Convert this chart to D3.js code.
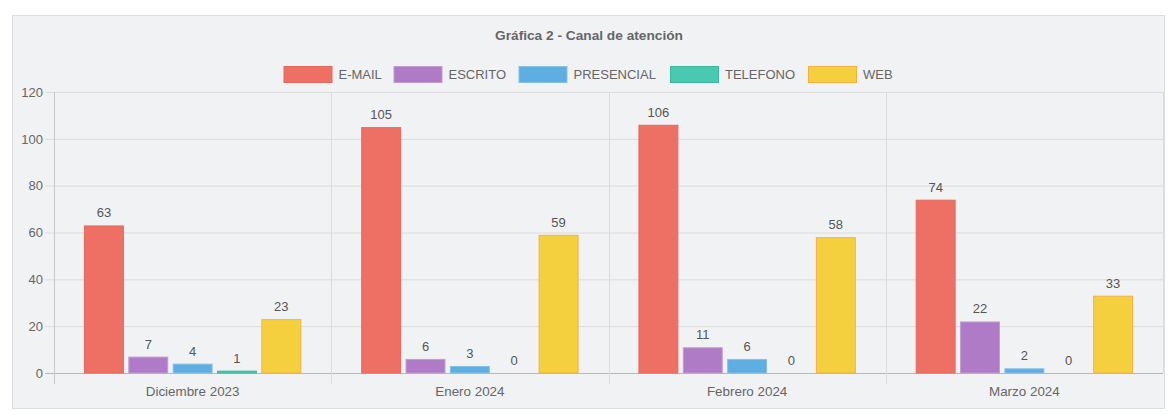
<!DOCTYPE html>
<html>
<head>
<meta charset="utf-8">
<script src="https://cdn.jsdelivr.net/npm/d3@7"></script>
<style>
  body { margin: 0; background: #fff; font-family: "Liberation Sans", Arial, Helvetica, sans-serif; }
  #chart { position: absolute; left: 0; top: 0; }
</style>
</head>
<body>
<div id="chart"></div>
<script>
const categories = ["Diciembre 2023", "Enero 2024", "Febrero 2024", "Marzo 2024"];
const seriesNames = ["E-MAIL", "ESCRITO", "PRESENCIAL", "TELEFONO", "WEB"];
const email = [63, 105, 106, 74];
const escrito = [7, 6, 11, 22];
const presencial = [4, 3, 6, 2];
const telefono = [1, 0, 0, 0];
const web = [23, 59, 58, 33];
const yTicks = [0, 20, 40, 60, 80, 100, 120];

const fills = ["#ee7064", "#b07bc6", "#5eaee2", "#48c9b0", "#f4d03f"];
const borders = ["#e8675b", "#c39bd3", "#85c1e9", "#3bb89f", "#f5b041"];
const seriesValues = [email, escrito, presencial, telefono, web];

const W = 1170, H = 415;
const plot = { left: 54, right: 1163, top: 92, bottom: 373 };
const fontFamily = "Liberation Sans, Arial, sans-serif";

const svg = d3.select("#chart").append("svg")
    .attr("width", W)
    .attr("height", H);

// panel
svg.append("rect")
    .attr("x", 12.5).attr("y", 15.5)
    .attr("width", 1152).attr("height", 393)
    .attr("fill", "#f1f2f4")
    .attr("stroke", "#dcdde0");

const x0 = d3.scaleBand().domain(categories).range([plot.left, plot.right]).padding(0);
const x1 = d3.scaleBand().domain(seriesNames)
    .range([x0.bandwidth() * 0.1, x0.bandwidth() * 0.9]);
const barW = x1.bandwidth() * 0.9;
const y = d3.scaleLinear().domain([0, 120]).range([plot.bottom, plot.top]);

// horizontal grid
const yAxis = d3.axisLeft(y).tickValues(yTicks).tickSize(0).tickPadding(11);
const gy = svg.append("g")
    .attr("transform", `translate(${plot.left},0)`)
    .call(yAxis);
gy.select(".domain").remove();
gy.selectAll(".tick line")
    .attr("x1", -9)
    .attr("x2", plot.right - plot.left)
    .attr("stroke", d => d === 0 ? "#b8b8b8" : "#dcdcdc");
gy.selectAll(".tick text")
    .attr("fill", "#666")
    .style("font-size", "13px")
    .style("font-family", fontFamily);

// vertical grid
const vlines = categories.map(c => x0(c)).concat([plot.right]);
svg.append("g").selectAll("line")
    .data(vlines)
    .join("line")
    .attr("x1", d => Math.round(d) + 0.5).attr("x2", d => Math.round(d) + 0.5)
    .attr("y1", plot.top).attr("y2", d => d === plot.right ? plot.bottom : plot.bottom + 11)
    .attr("stroke", (d, i) => i === 0 ? "#c8c8c8" : "#dcdcdc");

// x labels
const xAxis = d3.axisBottom(x0).tickSize(0).tickPadding(13);
const gx = svg.append("g")
    .attr("transform", `translate(0,${plot.bottom})`)
    .call(xAxis);
gx.select(".domain").remove();
gx.selectAll(".tick text")
    .attr("fill", "#666")
    .style("font-size", "13.4px")
    .style("font-family", fontFamily);

// bars
const groups = svg.append("g").selectAll("g")
    .data(categories)
    .join("g")
    .attr("transform", c => `translate(${x0(c)},0)`);

const cells = (c, ci) => seriesNames.map((s, si) => ({ s, si, v: seriesValues[si][ci] }));

groups.selectAll("rect")
    .data(cells)
    .join("rect")
    .attr("x", d => x1(d.s) + (x1.bandwidth() - barW) / 2 + 0.5)
    .attr("y", d => y(d.v) + 0.5)
    .attr("width", barW - 1)
    .attr("height", d => Math.max(0, y(0) - y(d.v) - 0.5))
    .attr("fill", d => fills[d.si])
    .attr("stroke", d => borders[d.si])
    .attr("stroke-width", d => d.v > 0 ? 1 : 0);

groups.selectAll("text")
    .data(cells)
    .join("text")
    .attr("x", d => x1(d.s) + x1.bandwidth() / 2)
    .attr("y", d => y(d.v) - 8)
    .attr("text-anchor", "middle")
    .attr("fill", "#555")
    .style("font-size", "13px")
    .text(d => d.v);

// title
svg.append("text")
    .attr("x", 589).attr("y", 40)
    .attr("text-anchor", "middle")
    .attr("fill", "#666")
    .style("font-size", "13.7px")
    .style("font-weight", "bold")
    .text("Gráfica 2 - Canal de atención");

// legend
const legendBoxes = [283.5, 393.5, 518.5, 670, 808];
const legend = svg.append("g").selectAll("g")
    .data(seriesNames)
    .join("g")
    .attr("transform", (d, i) => `translate(${legendBoxes[i]},66)`);
legend.append("rect")
    .attr("x", 0.5).attr("y", 0.5)
    .attr("width", 48).attr("height", 16)
    .attr("fill", (d, i) => fills[i])
    .attr("stroke", (d, i) => borders[i]);
legend.append("text")
    .attr("x", 55).attr("y", 13)
    .attr("fill", "#666")
    .style("font-size", "13px")
    .text(d => d);
</script>
</body>
</html>
